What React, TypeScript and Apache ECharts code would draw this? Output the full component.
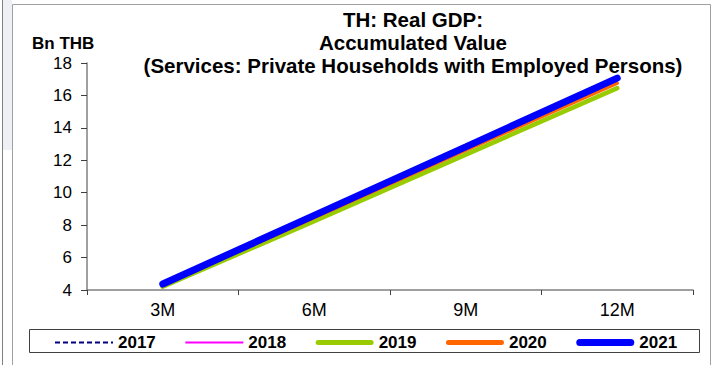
import React, { useEffect, useRef } from "react";
import * as echarts from "echarts";

const categories = ["3M", "6M", "9M", "12M"];
const years = ["2017", "2018", "2019", "2020", "2021"];
const s2017 = [4.28, 8.42, 12.58, 16.78];
const s2018 = [4.3, 8.45, 12.6, 16.8];
const s2019 = [4.2, 8.25, 12.35, 16.45];
const s2020 = [4.3, 8.46, 12.62, 16.75];
const s2021 = [4.37, 8.6, 12.83, 17.07];
const yTicks = { min: 4, max: 18, interval: 2 };

export default function App() {
  const ref = useRef<HTMLDivElement>(null);
  useEffect(() => {
    document.body.style.margin = "0";
    const chart = echarts.init(ref.current!, null, { renderer: "svg" });
    const font = "'Liberation Sans', Arial, sans-serif";
    const styles = [
      { color: "#000080", width: 1.5, type: [5, 3] },
      { color: "#ff00ff", width: 1.5, type: "solid" },
      { color: "#99cc00", width: 4.5, type: "solid" },
      { color: "#ff6600", width: 3.5, type: "solid" },
      { color: "#0000ff", width: 7, type: "solid" },
    ];
    const rounded = (h: number) =>
      `path://M${h / 2},0H${58 - h / 2}A${h / 2},${h / 2} 0 0 1 ${58 - h / 2},${h}H${h / 2}A${h / 2},${h / 2} 0 0 1 ${h / 2},0Z`;
    let dashed = "path://";
    for (let x = 0; x < 58; x += 8) dashed += `M${x},0H${Math.min(x + 5, 58)}V2H${x}Z`;
    const icons = [dashed, "path://M0,0H58V2H0Z", rounded(5), rounded(5), rounded(7)];
    const data = [s2017, s2018, s2019, s2020, s2021];
    chart.setOption({
      animation: false,
      backgroundColor: "#ffffff",
      textStyle: { fontFamily: font },
      title: {
        text: "TH: Real GDP:\nAccumulated Value\n(Services: Private Households with Employed Persons)",
        left: 408,
        textAlign: "center",
        top: 3,
        textStyle: { fontFamily: font, fontSize: 20.5, fontWeight: "bold", color: "#000", lineHeight: 23 },
      },
      graphic: [
        { type: "rect", shape: { x: 3, y: 0, width: 9, height: 150 }, style: { fill: "#eef0f6" }, silent: true },
        { type: "rect", shape: { x: 12.5, y: 4.5, width: 698, height: 400 }, style: { fill: "none", stroke: "#a0a0a0", lineWidth: 1 }, silent: true },
        { type: "line", shape: { x1: 2.5, y1: 0, x2: 2.5, y2: 365 }, style: { stroke: "#808080", lineWidth: 1 }, silent: true },
        { type: "rect", shape: { x: 29.5, y: 329.5, width: 670, height: 23 }, style: { fill: "none", stroke: "#404040", lineWidth: 1 }, silent: true, z: 10 },
        { type: "text", x: 32, y: 35, style: { text: "Bn THB", font: `bold 17px ${font}`, fill: "#000" } },
      ],
      legend: {
        left: 55,
        top: 334,
        padding: 0,
        itemWidth: 58,
        itemHeight: 14,
        itemGap: 29.5,
        data: years.map((y, i) => ({ name: y, icon: icons[i] })),
        textStyle: { fontFamily: font, fontSize: 17, fontWeight: "bold", color: "#000" },
      },
      grid: { left: 87, right: 19, top: 63, bottom: 75 },
      xAxis: {
        type: "category",
        data: categories,
        boundaryGap: true,
        axisLine: { lineStyle: { color: "#808080", width: 1.5 } },
        axisTick: { show: true, length: 5, lineStyle: { color: "#404040" } },
        axisLabel: { fontSize: 18, color: "#000", margin: 11, fontFamily: font },
      },
      yAxis: {
        type: "value",
        min: yTicks.min,
        max: yTicks.max,
        interval: yTicks.interval,
        splitLine: { show: false },
        axisLine: { show: true, lineStyle: { color: "#808080", width: 1.5 } },
        axisTick: { show: true, length: 6, lineStyle: { color: "#404040" } },
        axisLabel: { fontSize: 17, color: "#000", margin: 15, fontFamily: font },
      },
      series: years.map((y, i) => ({
        name: y,
        type: "line",
        data: data[i],
        symbol: "none",
        z: 2 + i,
        lineStyle: { color: styles[i].color, width: styles[i].width, type: styles[i].type, cap: "round" },
        itemStyle: { color: styles[i].color },
      })),
    });
    return () => chart.dispose();
  }, []);
  return <div ref={ref} style={{ width: 712, height: 365 }} />;
}
